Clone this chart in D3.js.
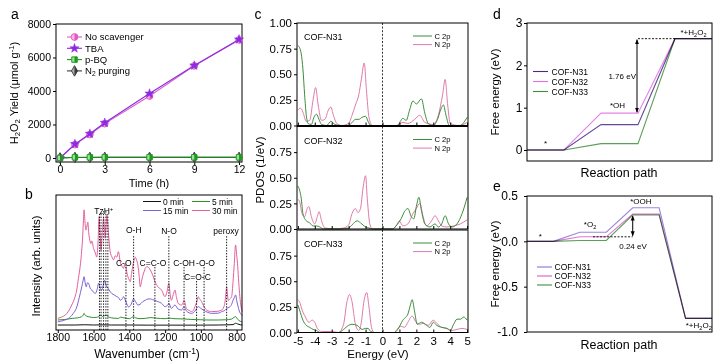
<!DOCTYPE html>
<html>
<head>
<meta charset="utf-8">
<script src="https://cdn.jsdelivr.net/npm/d3@7"></script>
<style>
body { margin: 0; background: #fff; }
svg { font-family: "Liberation Sans", Arial, sans-serif; }
</style>
</head>
<body>
<script>
// ---- panel a : H2O2 yield ----
const timeH = [0, 1, 2, 3, 6, 9, 12];
const yieldNoScav = [0, 800, 1400, 2050, 3700, 5500, 7050];
const yieldTBA = [0, 830, 1450, 2100, 3850, 5520, 7080];
const yieldPBQ = [0, 40, 40, 40, 40, 40, 40];
const yieldN2 = [0, 30, 30, 35, 35, 35, 35];

// ---- panel b : in-situ spectra [wavenumber, intensity] ----
const spec0 = [[1800,3.7],[1700,3.7],[1650,3.9],[1600,3.7],[1550,3.8],[1500,3.7],[1400,3.7],[1300,3.6],[1200,3.6],[1100,3.6],[1000,3.6],[900,3.7],[820,4],[806,5],[795,4.5],[780,3.9],[768,3.7]];
const spec5 = [[1800,7.4],[1760,7.8],[1720,8.6],[1690,9],[1666,9.9],[1658,11],[1653,12.3],[1648,11.2],[1641,10.4],[1620,9.6],[1600,9.2],[1582,9.4],[1570,10],[1560,11],[1550,10],[1540,10.5],[1530,11],[1520,10],[1500,9],[1461,8.6],[1450,9.5],[1430,9],[1400,8.4],[1376,9.9],[1365,9],[1340,8.4],[1311,8.6],[1280,9.2],[1250,8.8],[1200,8.4],[1179,8.8],[1150,8.4],[1100,8.2],[1050,7.8],[1000,7.6],[960,7.4],[900,7.4],[860,7.6],[830,8],[813,9.5],[806,9.9],[795,8],[780,6.5],[768,6]];
const spec15 = [[1800,6],[1770,7],[1740,8.6],[1715,12],[1694,17],[1680,24],[1666,32],[1658,37],[1653,39.5],[1647,35],[1641,32],[1634,35],[1628,34.6],[1619,31],[1610,29.6],[1600,28],[1591,27],[1580,30],[1572,34.6],[1563,31],[1554,29.6],[1546,33],[1539,37],[1532,34],[1526,32],[1519,31],[1513,29.6],[1498,27],[1485,26],[1470,24.7],[1460,24],[1451,22],[1440,23],[1432,24.7],[1425,23],[1419,21],[1410,18],[1404,17],[1390,19],[1376,23],[1365,21],[1352,18.5],[1340,19],[1325,21],[1311,22],[1295,23],[1283,23],[1270,22.5],[1257,22],[1240,21],[1220,19.8],[1200,17.3],[1185,18.5],[1179,19.8],[1165,16],[1145,18.5],[1127,15.5],[1108,14.8],[1094,17.3],[1080,14],[1052,12.3],[1033,14],[1015,17.3],[1000,16],[987,14.8],[960,13],[940,12.3],[900,12.5],[884,13.6],[866,14.5],[856,16],[840,17],[828,19],[820,22],[813,24],[806,26],[800,22],[794,18.5],[785,14],[775,11.5],[768,11]];
const spec30 = [[1800,8.6],[1780,9.5],[1759,11],[1740,14],[1722,18.5],[1705,24],[1694,29.6],[1685,38],[1675,47],[1668,56],[1662,66.7],[1657,80],[1653,89],[1648,80],[1643,74],[1637,77],[1632,80],[1627,72],[1623,68],[1615,64],[1610,66],[1600,60.5],[1590,57],[1582,54],[1575,65],[1569,84],[1563,70],[1558,59],[1551,72],[1544,83],[1539,75],[1535,68],[1530,78],[1526,85],[1521,80],[1517,72],[1512,64],[1507,58],[1497,54],[1488,52],[1479,55],[1470,54],[1461,58],[1451,50.6],[1440,47],[1432,45.7],[1425,49],[1419,47],[1413,42],[1408,39.5],[1400,37],[1395,35.8],[1387,42],[1380,48],[1376,50.6],[1367,54],[1360,52],[1352,48],[1345,40],[1339,32],[1332,36],[1326,39.5],[1318,43],[1311,45.7],[1300,47],[1290,46],[1283,44.5],[1270,41],[1257,36],[1240,32],[1220,29.6],[1200,24.7],[1190,28],[1179,34.6],[1172,27],[1165,22],[1155,26],[1145,29.6],[1136,24],[1127,19.8],[1108,18.5],[1100,20],[1094,22],[1081,16],[1065,14.5],[1052,13.6],[1040,15],[1033,17.3],[1020,22],[1015,24.7],[1008,23],[1000,22],[987,18.5],[968,14.8],[940,13.6],[910,13.8],[884,14.8],[872,17],[866,19.8],[860,27],[856,32],[851,26],[847,22],[838,23],[828,24.7],[820,36],[813,49.4],[806,63],[800,56],[794,47],[788,35],[782,24.7],[775,17],[768,13.6]];
const bandWaves = [1567, 1558, 1544, 1531, 1520, 1419, 1376, 1257, 1179, 1094, 1024, 982, 856];
const bandTops = [86, 86, 88, 88, 86, 48, 70, 47, 70, 48, 37, 48, 70];
const bandNames = ["TzH+", "C-O", "O-H", "C=C-O", "N-O", "C-OH", "C=O-C", "-O-O", "peroxy"];
const bandNameWave = [1543, 1431, 1375, 1268, 1178, 1094, 1019, 974, 859];
const bandNameLevel = [88, 50, 74, 50, 73, 50, 39, 50, 73];

// ---- panel c : PDOS [energy, states] ----
const n31C = [[-5,0.78],[-4.9,0.76],[-4.8,0.7],[-4.7,0.55],[-4.6,0.3],[-4.5,0.1],[-4.4,0.02],[-4.2,0.01],[-4.05,0.08],[-3.9,0.11],[-3.75,0.06],[-3.6,0.01],[-3.3,0],[-3.05,0.04],[-2.8,0.01],[-2.5,0],[-2,0],[-1.8,0.03],[-1.6,0.06],[-1.4,0.06],[-1.2,0.08],[-1,0.09],[-0.85,0.04],[-0.7,0],[0.9,0],[1.05,0.04],[1.2,0.07],[1.4,0.05],[1.6,0.15],[1.8,0.24],[2,0.21],[2.3,0.26],[2.5,0.12],[2.7,0.02],[3,0],[3.25,0.06],[3.45,0.16],[3.6,0.2],[3.75,0.1],[3.95,0],[4.6,0],[4.8,0.03],[5,0.08]];
const n31N = [[-5,0.15],[-4.85,0.17],[-4.7,0.13],[-4.5,0.04],[-4.3,0.05],[-4.1,0.25],[-3.95,0.37],[-3.8,0.2],[-3.6,0.05],[-3.4,0.06],[-3.2,0.15],[-3.05,0.18],[-2.9,0.1],[-2.7,0.02],[-2.4,0],[-2,0.02],[-1.8,0.1],[-1.6,0.2],[-1.4,0.3],[-1.25,0.45],[-1.08,0.61],[-0.95,0.35],[-0.8,0.08],[-0.6,0],[0.8,0],[1.2,0.03],[1.5,0.02],[1.9,0.06],[2.2,0.1],[2.5,0.03],[3,0.01],[3.3,0.1],[3.55,0.3],[3.7,0.45],[3.85,0.2],[4,0.02],[4.5,0],[5,0.03]];
const n32C = [[-5,0.42],[-4.9,0.38],[-4.8,0.3],[-4.7,0.15],[-4.5,0.08],[-4.3,0.06],[-4.1,0.03],[-3.9,0.03],[-3.7,0.02],[-3.5,0],[-2.5,0],[-2,0.01],[-1.8,0.04],[-1.5,0.08],[-1.3,0.06],[-1,0.02],[-0.8,0.01],[-0.6,0],[0.6,0],[0.8,0.03],[1.1,0.1],[1.3,0.17],[1.5,0.2],[1.7,0.12],[1.85,0.1],[2,0.22],[2.15,0.31],[2.3,0.18],[2.5,0.05],[2.8,0.02],[3.1,0.05],[3.3,0.02],[3.5,0.05],[3.7,0.13],[3.9,0.05],[4.1,0.02],[4.4,0.05],[4.7,0.15],[5,0.31]];
const n32N = [[-5,0.29],[-4.9,0.27],[-4.75,0.15],[-4.6,0.12],[-4.45,0.2],[-4.35,0.22],[-4.2,0.12],[-4,0.05],[-3.85,0.12],[-3.75,0.17],[-3.6,0.08],[-3.4,0.01],[-2.8,0],[-2.3,0.01],[-2,0.04],[-1.8,0.15],[-1.6,0.2],[-1.45,0.16],[-1.3,0.2],[-1.15,0.4],[-1,0.52],[-0.9,0.3],[-0.75,0.05],[-0.6,0],[0.6,0],[0.8,0.03],[1,0.08],[1.2,0.03],[1.5,0.05],[1.8,0.15],[2,0.2],[2.2,0.25],[2.4,0.12],[2.6,0.03],[2.9,0.08],[3.1,0.13],[3.3,0.08],[3.5,0.03],[3.8,0.02],[4.2,0.03],[4.6,0.05],[5,0.09]];
const n33C = [[-5,0.27],[-4.9,0.22],[-4.7,0.12],[-4.5,0.07],[-4.3,0.05],[-4.1,0.03],[-3.9,0.02],[-3.7,0],[-2.6,0],[-2.3,0.03],[-2,0.07],[-1.8,0.08],[-1.5,0.07],[-1.2,0.03],[-1,0.04],[-0.85,0.04],[-0.7,0.01],[-0.5,0],[0.7,0],[0.9,0.03],[1.2,0.12],[1.5,0.18],[1.65,0.27],[1.75,0.32],[1.9,0.2],[2.05,0.08],[2.3,0.1],[2.6,0.07],[2.8,0.05],[3,0.1],[3.2,0.07],[3.5,0.05],[3.8,0.04],[4,0.02],[4.2,0.08],[4.4,0.13],[4.6,0.13],[4.8,0.15],[5,0.12]];
const n33N = [[-5,0.32],[-4.9,0.3],[-4.75,0.22],[-4.55,0.15],[-4.35,0.1],[-4.15,0.12],[-4,0.1],[-3.85,0.04],[-3.6,0.01],[-3,0.01],[-2.6,0],[-2.3,0.08],[-2.1,0.3],[-1.95,0.37],[-1.8,0.3],[-1.6,0.08],[-1.4,0.02],[-1.25,0.1],[-1.1,0.3],[-0.93,0.39],[-0.8,0.25],[-0.65,0.05],[-0.5,0],[0.7,0],[0.9,0.04],[1.1,0.06],[1.3,0.05],[1.5,0.1],[1.75,0.16],[1.95,0.11],[2.2,0.08],[2.4,0.09],[2.7,0.07],[3,0.12],[3.2,0.09],[3.5,0.05],[3.8,0.04],[4.1,0.02],[4.4,0.03],[4.7,0.04],[5,0.03]];

// ---- panel d / e : free energy per step ----
const stepsD = ["*", "*OH", "*+H2O2"];
const dN31 = [0, 0.6, 2.63];
const dN32 = [0, 0.87, 2.63];
const dN33 = [0, 0.15, 2.63];
const stepsE = ["*", "*O2", "*OOH", "*+H2O2"];
const eN31 = [0, 0.10, 0.37, -0.85];
const eN32 = [0, 0.05, 0.30, -0.85];
const eN33 = [0, 0.01, 0.29, -0.85];

const svg = d3.select("body").append("svg").attr("width", 728).attr("height", 361);
const defs = svg.append("defs");
defs.append("clipPath").attr("id", "rhalf").append("rect")
    .attr("x", 0).attr("y", -8).attr("width", 8).attr("height", 16);
defs.append("marker").attr("id", "arr").attr("viewBox", "0 0 10 10")
    .attr("refX", 9).attr("refY", 5).attr("markerWidth", 5).attr("markerHeight", 5)
    .attr("orient", "auto-start-reverse")
    .append("path").attr("d", "M0,1L10,5L0,9z").attr("fill", "#000");

function rich(el, parts, size) {
    parts.forEach(([t, k]) => {
        const ts = el.append("tspan").text(t);
        if (k === "sub") ts.attr("font-size", size * 0.7).attr("baseline-shift", "-25%");
        if (k === "sup") ts.attr("font-size", size * 0.7).attr("baseline-shift", "45%");
    });
}
function styleAxis(g, size) {
    g.select(".domain").remove();
    g.selectAll(".tick line").attr("stroke", "#000");
    g.selectAll(".tick text").attr("font-size", size).attr("fill", "#000")
        .attr("font-family", '"Liberation Sans", Arial, sans-serif');
}
function frame(b) {
    svg.append("rect").attr("x", b.l).attr("y", b.t).attr("width", b.r - b.l).attr("height", b.b - b.t)
        .attr("fill", "none").attr("stroke", "#000").attr("stroke-width", 1);
}
function label(x, y, txt, size, opts = {}) {
    const t = svg.append("text").attr("x", x).attr("y", y).attr("font-size", size)
        .attr("text-anchor", opts.anchor || "middle").attr("fill", "#000");
    if (opts.rot) t.attr("transform", `rotate(-90,${x},${y})`);
    if (Array.isArray(txt)) rich(t, txt, size); else t.text(txt);
    return t;
}
const plain = d3.format("d");
const hyph = f => v => f(v).replace("−", "-");

//Panel a
const A = {l: 56, r: 242, t: 24, b: 162};
const xA = d3.scaleLinear().domain([-0.27, 12.2]).range([A.l, A.r]);
const yA = d3.scaleLinear().domain([-240, 8000]).range([A.b, A.t]);
svg.append("g").attr("transform", `translate(0,${A.b})`)
    .call(d3.axisBottom(xA).tickValues([0, 3, 6, 9, 12]).tickFormat(plain).tickSize(3).tickPadding(1)).call(styleAxis, 10.5);
svg.append("g").attr("transform", `translate(${A.l},0)`)
    .call(d3.axisLeft(yA).tickValues([0, 2000, 4000, 6000, 8000]).tickFormat(plain).tickSize(3).tickPadding(2)).call(styleAxis, 10.5);
frame(A);
const seriesA = [
    {name: [["No scavenger"]], v: yieldNoScav, color: "#e05cc0", light: "#f6b9e8", shape: "circle"},
    {name: [["TBA"]], v: yieldTBA, color: "#8a2be2", light: "#8a2be2", shape: "star"},
    {name: [["N"], ["2", "sub"], [" purging"]], v: yieldN2, color: "#383838", light: "#b0b0b0", shape: "diamond"},
    {name: [["p-BQ"]], v: yieldPBQ, color: "#1b9a1b", light: "#9fe09f", shape: "square"}
];
function marker(g, s) {
    const type = {circle: d3.symbolCircle, square: d3.symbolSquare, diamond: d3.symbolDiamond, star: d3.symbolStar}[s.shape];
    const size = {circle: 36, square: 30, diamond: 32, star: 26}[s.shape];
    const p = d3.symbol(type, size)();
    if (s.shape === "star") {
        g.append("path").attr("d", p).attr("fill", s.color).attr("stroke", s.color).attr("stroke-width", 0.5);
        return;
    }
    g.append("path").attr("d", p).attr("fill", s.light).attr("stroke", s.color).attr("stroke-width", 0.9);
    g.append("path").attr("d", p).attr("fill", s.color).attr("clip-path", "url(#rhalf)");
}
const lineA = d3.line().x((d, i) => xA(timeH[i])).y(d => yA(d));
seriesA.forEach(s => {
    svg.append("path").attr("d", lineA(s.v)).attr("fill", "none").attr("stroke", s.color).attr("stroke-width", 1.1);
    s.v.forEach((d, i) => marker(svg.append("g").attr("transform", `translate(${xA(timeH[i])},${yA(d)})`), s));
});
const legendA = [seriesA[0], seriesA[1], seriesA[3], seriesA[2]];
legendA.forEach((s, i) => {
    const y = 37 + i * 11.3;
    svg.append("line").attr("x1", 67).attr("x2", 82).attr("y1", y).attr("y2", y).attr("stroke", s.color).attr("stroke-width", 1.1);
    marker(svg.append("g").attr("transform", `translate(74.5,${y})`), s);
    label(85, y + 3.3, s.name, 9.5, {anchor: "start"});
});
label(18, 93, [["H"], ["2", "sub"], ["O"], ["2", "sub"], [" Yield (μmol g"], ["-1", "sup"], [")"]], 11, {rot: true});
label(149, 187, "Time (h)", 11);
label(15, 19, "a", 14);

//Panel b
const B = {l: 56, r: 242, t: 195, b: 330};
const xB = d3.scaleLinear().domain([1810, 770]).range([B.l, B.r]);
const yB = d3.scaleLinear().domain([0, 100]).range([B.b, B.t]);
svg.append("g").attr("transform", `translate(0,${B.b})`)
    .call(d3.axisBottom(xB).tickValues(d3.range(1800, 799, -200)).tickFormat(plain).tickSize(3).tickPadding(1)).call(styleAxis, 10.5);
const lineB = d3.line().x(d => xB(d[0])).y(d => yB(d[1])).curve(d3.curveMonotoneX);
const seriesB = [
    {name: "0 min", data: spec0, color: "#111"},
    {name: "5 min", data: spec5, color: "#2f8f2f"},
    {name: "15 min", data: spec15, color: "#7d62d8"},
    {name: "30 min", data: spec30, color: "#e2609c"}
];
seriesB.forEach(s => svg.append("path").attr("d", lineB(s.data)).attr("fill", "none")
    .attr("stroke", s.color).attr("stroke-width", 1));
bandWaves.forEach((w, i) => svg.append("line").attr("x1", xB(w)).attr("x2", xB(w))
    .attr("y1", B.b).attr("y2", yB(bandTops[i])).attr("stroke", "#000").attr("stroke-width", 0.9)
    .attr("stroke-dasharray", "1.4,1.4"));
bandNames.forEach((n, i) => {
    const txt = n === "TzH+" ? [["TzH"], ["+", "sup"]] : n;
    label(xB(bandNameWave[i]), yB(bandNameLevel[i]) + 3, txt, 8.5);
});
frame(B);
seriesB.forEach((s, i) => {
    const x0 = i % 2 ? 192 : 143, y = 201.5 + Math.floor(i / 2) * 9;
    svg.append("line").attr("x1", x0).attr("x2", x0 + 18).attr("y1", y).attr("y2", y).attr("stroke", s.color).attr("stroke-width", 1);
    label(x0 + 20, y + 3, s.name, 8.5, {anchor: "start"});
});
label(40, 266, "Intensity (arb. units)", 11.5, {rot: true});
label(147, 358, [["Wavenumber (cm"], ["-1", "sup"], [")"]], 12);
label(29, 199, "b", 14);

//Panel c
const C = {l: 297, r: 468, tops: [23, 126.5, 230], h: 102.5};
const xC = d3.scaleLinear().domain([-5.05, 5.05]).range([C.l, C.r]);
const pdos = [
    {name: "COF-N31", c: n31C, n: n31N},
    {name: "COF-N32", c: n32C, n: n32N},
    {name: "COF-N33", c: n33C, n: n33N}
];
const cGreen = "#3b8d3b", cPink = "#e07aaa";
pdos.forEach((p, k) => {
    const top = C.tops[k], bot = top + C.h;
    const y = d3.scaleLinear().domain([0, 1]).range([bot, top]);
    const line = d3.line().x(d => xC(d[0])).y(d => y(d[1])).curve(d3.curveMonotoneX);
    svg.append("path").attr("d", line(p.n)).attr("fill", "none").attr("stroke", cPink).attr("stroke-width", 1);
    svg.append("path").attr("d", line(p.c)).attr("fill", "none").attr("stroke", cGreen).attr("stroke-width", 1);
    svg.append("line").attr("x1", xC(0)).attr("x2", xC(0)).attr("y1", top).attr("y2", bot)
        .attr("stroke", "#000").attr("stroke-width", 0.8).attr("stroke-dasharray", "2,1.6");
    const xa = d3.axisBottom(xC).tickValues(d3.range(-5, 6)).tickFormat(hyph(plain)).tickSize(-3).tickPadding(4);
    if (k < 2) xa.tickFormat("");
    svg.append("g").attr("transform", `translate(0,${bot})`).call(xa).call(styleAxis, 11.5);
    svg.append("g").attr("transform", `translate(${C.l},0)`)
        .call(d3.axisLeft(y).tickValues(k === 0 ? [0, 0.25, 0.5, 0.75, 1] : [0, 0.25, 0.5, 0.75])
            .tickFormat(d3.format(".2f")).tickSize(3).tickPadding(2)).call(styleAxis, 11.5);
    svg.append("rect").attr("x", C.l).attr("y", top).attr("width", C.r - C.l).attr("height", C.h)
        .attr("fill", "none").attr("stroke", "#000");
    label(304, top + 17, p.name, 9, {anchor: "start"});
    [["C 2p", cGreen], ["N 2p", cPink]].forEach(([t, col], j) => {
        const yy = top + 13 + j * 8.6;
        svg.append("line").attr("x1", 413).attr("x2", 432).attr("y1", yy).attr("y2", yy).attr("stroke", col).attr("stroke-width", 1);
        label(434.5, yy + 2.8, t, 7.6, {anchor: "start"});
    });
});
label(264, 170, "PDOS (1/eV)", 11.5, {rot: true});
label(378, 358, "Energy (eV)", 11.5);
label(258, 19, "c", 14);

//Panel d and e
const freeColorsD = ["#4b2a84", "#e070e0", "#3e8e3e"];
const freeColorsE = ["#8a70d8", "#d862c2", "#3e8e3e"];
const legendNames = ["COF-N31", "COF-N32", "COF-N33"];
function stepPath(vals, x, y, step, width) {
    const pts = [];
    vals.forEach((v, i) => { pts.push([x(i * step), y(v)]); pts.push([x(i * step + width), y(v)]); });
    return d3.line()(pts);
}
function yTicks(box, y, vals, fmt, pad) {
    svg.append("g").attr("transform", `translate(${box.l},0)`)
        .call(d3.axisLeft(y).tickValues(vals).tickFormat(fmt).tickSize(3).tickPadding(pad)).call(styleAxis, 12);
}
const D = {l: 527, r: 712, t: 23, b: 161};
const xD = d3.scaleLinear().domain([0, 10]).range([D.l, D.r]);
const yD = d3.scaleLinear().domain([-0.26, 3]).range([D.b, D.t]);
yTicks(D, yD, [0, 1, 2, 3], plain, 1.5);
[dN31, dN32, dN33].forEach((vals, i) => svg.append("path").attr("d", stepPath(vals, xD, yD, 4, 2))
    .attr("fill", "none").attr("stroke", freeColorsD[i]).attr("stroke-width", 1.1)
    .attr("stroke-opacity", 0.85).style("mix-blend-mode", "multiply"));
frame(D);
svg.append("line").attr("x1", xD(6)).attr("x2", xD(8)).attr("y1", yD(2.63)).attr("y2", yD(2.63))
    .attr("stroke", "#000").attr("stroke-width", 0.9).attr("stroke-dasharray", "2,1.5");
svg.append("line").attr("x1", xD(6) - 1).attr("x2", xD(6) - 1).attr("y1", yD(2.63) + 1).attr("y2", yD(0.87) - 1)
    .attr("stroke", "#000").attr("stroke-width", 1).attr("marker-start", "url(#arr)").attr("marker-end", "url(#arr)");
label(xD(1), yD(0) - 4, stepsD[0], 8);
label(xD(5) - 2, yD(0.87) - 5, stepsD[1], 8);
label(xD(9), yD(2.63) - 4, [["*+H"], ["2", "sub"], ["O"], ["2", "sub"]], 8);
label(636, 79, "1.76 eV", 8, {anchor: "end"});
legendNames.forEach((n, i) => {
    const y = 71.5 + i * 10;
    svg.append("line").attr("x1", 533).attr("x2", 548).attr("y1", y).attr("y2", y).attr("stroke", freeColorsD[i]).attr("stroke-width", 1.1);
    label(551.5, y + 3, n, 8.5, {anchor: "start"});
});
label(499, 92, "Free energy (eV)", 11.5, {rot: true});
label(619, 177, "Reaction path", 12.5);
label(497, 19, "d", 14);

const E = {l: 527, r: 712, t: 196, b: 332};
const xE = d3.scaleLinear().domain([0, 7]).range([E.l, E.r]);
const yE = d3.scaleLinear().domain([-1, 0.5]).range([E.b, E.t]);
yTicks(E, yE, [-1, -0.5, 0, 0.5], hyph(d3.format(".1f")), 6);
[eN31, eN32, eN33].forEach((vals, i) => svg.append("path").attr("d", stepPath(vals, xE, yE, 2, 1))
    .attr("fill", "none").attr("stroke", freeColorsE[i]).attr("stroke-width", 1.1)
    .attr("stroke-opacity", 0.85).style("mix-blend-mode", "multiply"));
frame(E);
svg.append("line").attr("x1", xE(2.5)).attr("x2", xE(4)).attr("y1", yE(0.05)).attr("y2", yE(0.05))
    .attr("stroke", "#000").attr("stroke-width", 0.9).attr("stroke-dasharray", "2,1.5");
svg.append("line").attr("x1", xE(4)).attr("x2", xE(4)).attr("y1", yE(0.05) - 1).attr("y2", yE(0.29) + 1)
    .attr("stroke", "#000").attr("stroke-width", 1).attr("marker-start", "url(#arr)").attr("marker-end", "url(#arr)");
label(xE(0.5), yE(0) - 2, stepsE[0], 8);
label(xE(2.5) - 3, yE(0.1) - 5, [["*O"], ["2", "sub"]], 8);
label(xE(4.5) - 5, yE(0.37) - 3.5, stepsE[2], 8);
label(xE(6.5), yE(-0.85) + 10, [["*+H"], ["2", "sub"], ["O"], ["2", "sub"]], 8);
label(633, 249, "0.24 eV", 8);
legendNames.forEach((n, i) => {
    const y = 267 + i * 9;
    svg.append("line").attr("x1", 537).attr("x2", 552).attr("y1", y).attr("y2", y).attr("stroke", freeColorsE[i]).attr("stroke-width", 1.1);
    label(554.5, y + 3, n, 8.5, {anchor: "start"});
});
label(499, 264, "Free energy (eV)", 11.5, {rot: true});
label(619, 349, "Reaction path", 12.5);
label(497, 191, "e", 14);
</script>
</body>
</html>
